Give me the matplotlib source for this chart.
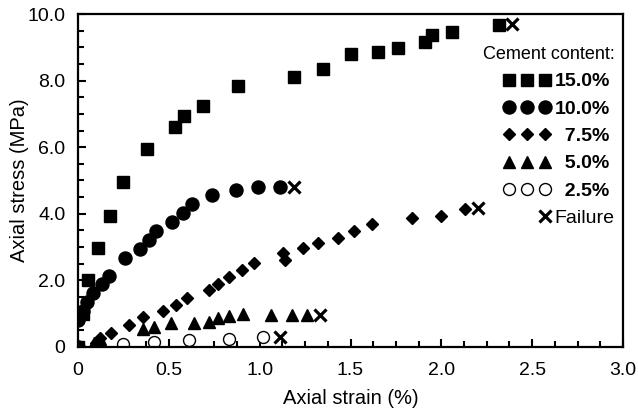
import numpy as np
import matplotlib.pyplot as plt
from matplotlib.lines import Line2D
from matplotlib.legend_handler import HandlerLine2D
from matplotlib.ticker import MultipleLocator, FuncFormatter

plt.rcParams['font.family'] = ['Liberation Sans', 'DejaVu Sans']

# stress-strain data, strain (%) / stress (MPa)
x_150 = [0, 0.03, 0.055, 0.11, 0.175, 0.25, 0.38, 0.535, 0.585, 0.69, 0.88,
         1.19, 1.35, 1.50, 1.65, 1.76, 1.91, 1.95, 2.06, 2.32]
y_150 = [0, 1.0, 2.0, 2.96, 3.93, 4.95, 5.94, 6.6, 6.94, 7.23, 7.84,
         8.1, 8.35, 8.8, 8.87, 8.98, 9.17, 9.37, 9.46, 9.67]

x_100 = [0, 0, 0.03, 0.05, 0.08, 0.13, 0.17, 0.26, 0.34, 0.39, 0.43, 0.52,
         0.58, 0.63, 0.74, 0.87, 0.99, 1.11]
y_100 = [0, 0.81, 1.08, 1.35, 1.62, 1.89, 2.13, 2.67, 2.94, 3.21, 3.48, 3.75,
         4.02, 4.29, 4.56, 4.71, 4.80, 4.80]

x_75 = [0, 0.10, 0.12, 0.18, 0.28, 0.36, 0.47, 0.54, 0.60, 0.72, 0.77, 0.83,
        0.90, 0.97, 1.13, 1.14, 1.24, 1.32, 1.43, 1.52, 1.62, 1.84, 2.00, 2.13]
y_75 = [0, 0.12, 0.27, 0.42, 0.66, 0.90, 1.08, 1.26, 1.47, 1.71, 1.89, 2.10,
        2.31, 2.52, 2.82, 2.61, 2.97, 3.12, 3.27, 3.48, 3.69, 3.87, 3.93, 4.14]

x_50 = [0, 0.09, 0.12, 0.36, 0.42, 0.51, 0.64, 0.72, 0.77, 0.83, 0.91,
        1.06, 1.18, 1.26]
y_50 = [0, 0.12, 0.24, 0.54, 0.60, 0.72, 0.72, 0.75, 0.87, 0.93, 0.99,
        0.96, 0.96, 0.96]

x_25 = [0, 0.25, 0.42, 0.61, 0.83, 1.02]
y_25 = [0, 0.09, 0.15, 0.21, 0.24, 0.30]

# failure points
x_fail = [2.39, 1.19, 2.20, 1.33, 1.11]
y_fail = [9.70, 4.80, 4.17, 0.96, 0.30]


class HandlerLastPoint(HandlerLine2D):
    # keep only the right-most of the legend marker positions
    def get_xdata(self, legend, xdescent, ydescent, width, height, fontsize):
        xd, xm = super().get_xdata(legend, xdescent, ydescent, width, height, fontsize)
        return [xm[-1]], [xm[-1]]


fig = plt.figure(figsize=(6.38, 4.12), dpi=100)
ax = fig.add_axes([0.1223, 0.1578, 0.8542, 0.8082])

ax.plot(x_25, y_25, 'o', ms=8.6, mfc='white', mec='k', mew=1.0, ls='none')
ax.plot(x_50, y_50, '^', ms=8.6, color='k', ls='none')
ax.plot(x_75, y_75, 'D', ms=6.4, color='k', ls='none')
ax.plot(x_100, y_100, 'o', ms=9.4, color='k', ls='none')
ax.plot(x_150, y_150, 's', ms=8.6, color='k', ls='none')
ax.plot(x_fail, y_fail, 'x', ms=9, color='k', mew=2.3, ls='none')

ax.set_xlim(0, 3.0)
ax.set_ylim(0, 10.0)
ax.xaxis.set_major_locator(MultipleLocator(0.5))
ax.xaxis.set_minor_locator(MultipleLocator(0.125))
ax.yaxis.set_major_locator(MultipleLocator(2.0))
ax.yaxis.set_minor_locator(MultipleLocator(0.5))
fmt = FuncFormatter(lambda v, p: '0' if abs(v) < 1e-9 else '%.1f' % v)
ax.xaxis.set_major_formatter(fmt)
ax.yaxis.set_major_formatter(fmt)
ax.tick_params(which='both', direction='in', width=1.5, labelsize=14,
               top=False, right=False)
ax.tick_params(which='major', length=6)
ax.tick_params(which='minor', length=4)
ax.tick_params(axis='x', which='major', pad=11)
ax.tick_params(axis='y', which='major', pad=9)
for s in ax.spines.values():
    s.set_linewidth(1.6)

ax.set_xlabel('Axial strain (%)', fontsize=14.5, labelpad=7)
ax.set_ylabel('Axial stress (MPa)', fontsize=14.5, labelpad=-1)

handles = [Line2D([], [], marker='s', ms=8.6, color='k', ls='none'),
           Line2D([], [], marker='o', ms=9.4, color='k', ls='none'),
           Line2D([], [], marker='D', ms=6.4, color='k', ls='none'),
           Line2D([], [], marker='^', ms=8.6, color='k', ls='none'),
           Line2D([], [], marker='o', ms=8.6, mfc='white', mec='k', mew=1.0, ls='none'),
           Line2D([], [], marker='x', ms=9, color='k', mew=2.3, ls='none')]
labels = ['15.0%', '10.0%', '  7.5%', '  5.0%', '  2.5%', 'Failure']
leg = ax.legend(handles, labels, title='Cement content:', numpoints=3,
                loc='upper right', bbox_to_anchor=(1.0, 0.93), frameon=False,
                fontsize=14, title_fontsize=13, handlelength=2.45,
                handletextpad=0.2, labelspacing=0.5, borderpad=0.2,
                borderaxespad=0.25, alignment='right',
                handler_map={handles[-1]: HandlerLastPoint(numpoints=3)})
for t in leg.get_texts()[:5]:
    t.set_fontweight('bold')

fig.savefig('out.png', dpi=100)
